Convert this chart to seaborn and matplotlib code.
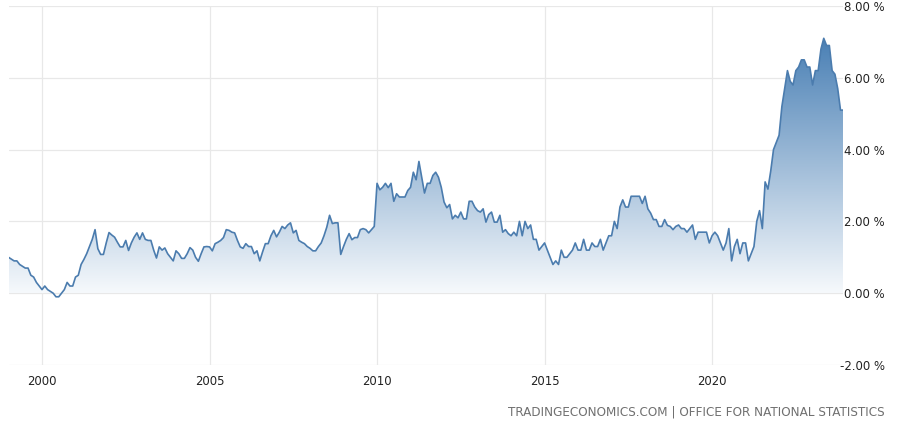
import numpy as np
import pandas as pd
import matplotlib
matplotlib.use("Agg")
import matplotlib.pyplot as plt
from matplotlib.colors import LinearSegmentedColormap
import seaborn as sns

# UK core inflation rate, monthly, Jan 1999 - Dec 2023 (%)
core_1999 = [1.0, 0.95, 0.9, 0.9, 0.8, 0.75, 0.7, 0.7, 0.5, 0.45, 0.3, 0.2]
core_2000 = [0.1, 0.2, 0.1, 0.05, 0.0, -0.1, -0.1, 0.0, 0.1, 0.3, 0.2, 0.2]
core_2001 = [0.45, 0.5, 0.8, 0.94, 1.1, 1.3, 1.5, 1.77, 1.24, 1.08, 1.08, 1.4]
core_2002 = [1.69, 1.62, 1.56, 1.42, 1.29, 1.29, 1.47, 1.19, 1.4, 1.56, 1.68, 1.5]
core_2003 = [1.68, 1.5, 1.47, 1.47, 1.2, 0.98, 1.29, 1.2, 1.26, 1.1, 1.0, 0.9]
core_2004 = [1.18, 1.1, 0.97, 0.97, 1.1, 1.27, 1.2, 1.0, 0.89, 1.1, 1.29, 1.3]
core_2005 = [1.29, 1.18, 1.38, 1.42, 1.47, 1.55, 1.77, 1.75, 1.7, 1.68, 1.47, 1.29]
core_2006 = [1.25, 1.38, 1.3, 1.3, 1.1, 1.18, 0.9, 1.15, 1.38, 1.38, 1.6, 1.75]
core_2007 = [1.57, 1.7, 1.86, 1.8, 1.9, 1.96, 1.68, 1.75, 1.47, 1.42, 1.38, 1.3]
core_2008 = [1.25, 1.18, 1.18, 1.3, 1.4, 1.6, 1.84, 2.17, 1.94, 1.96, 1.96, 1.08]
core_2009 = [1.3, 1.5, 1.66, 1.49, 1.55, 1.55, 1.77, 1.8, 1.77, 1.68, 1.77, 1.86]
core_2010 = [3.06, 2.88, 2.95, 3.06, 2.94, 3.06, 2.56, 2.77, 2.68, 2.68, 2.68, 2.86]
core_2011 = [2.95, 3.37, 3.16, 3.67, 3.23, 2.79, 3.06, 3.06, 3.28, 3.37, 3.23, 2.95]
core_2012 = [2.54, 2.38, 2.47, 2.07, 2.17, 2.1, 2.26, 2.07, 2.07, 2.56, 2.56, 2.4]
core_2013 = [2.3, 2.26, 2.35, 1.98, 2.19, 2.26, 1.98, 1.98, 2.17, 1.7, 1.77, 1.66]
core_2014 = [1.6, 1.7, 1.6, 2.0, 1.6, 2.0, 1.8, 1.9, 1.5, 1.5, 1.2, 1.3]
core_2015 = [1.4, 1.2, 1.0, 0.8, 0.9, 0.8, 1.2, 1.0, 1.0, 1.1, 1.2, 1.4]
core_2016 = [1.2, 1.2, 1.5, 1.2, 1.2, 1.4, 1.3, 1.3, 1.5, 1.2, 1.4, 1.6]
core_2017 = [1.6, 2.0, 1.8, 2.4, 2.6, 2.4, 2.4, 2.7, 2.7, 2.7, 2.7, 2.5]
core_2018 = [2.7, 2.35, 2.23, 2.05, 2.05, 1.86, 1.86, 2.05, 1.89, 1.86, 1.77, 1.86]
core_2019 = [1.9, 1.8, 1.8, 1.7, 1.8, 1.9, 1.5, 1.7, 1.7, 1.7, 1.7, 1.4]
core_2020 = [1.6, 1.7, 1.6, 1.4, 1.2, 1.4, 1.8, 0.9, 1.3, 1.5, 1.1, 1.4]
core_2021 = [1.4, 0.9, 1.1, 1.3, 2.0, 2.3, 1.8, 3.1, 2.9, 3.4, 4.0, 4.2]
core_2022 = [4.4, 5.2, 5.7, 6.2, 5.9, 5.8, 6.2, 6.3, 6.5, 6.5, 6.3, 6.3]
core_2023 = [5.8, 6.2, 6.2, 6.8, 7.1, 6.9, 6.9, 6.2, 6.1, 5.7, 5.1, 5.1]

year_ticks = [2000, 2005, 2010, 2015, 2020]
y_ticks = [-2, 0, 2, 4, 6, 8]
source_text = "TRADINGECONOMICS.COM | OFFICE FOR NATIONAL STATISTICS"

# build the monthly frame
yearly = [core_1999, core_2000, core_2001, core_2002, core_2003, core_2004,
          core_2005, core_2006, core_2007, core_2008, core_2009, core_2010,
          core_2011, core_2012, core_2013, core_2014, core_2015, core_2016,
          core_2017, core_2018, core_2019, core_2020, core_2021, core_2022,
          core_2023]
values = np.concatenate(yearly)
t = 1999 + np.arange(len(values)) / 12.0
df = pd.DataFrame({"t": t, "value": values})

sns.set_style("white")
plt.rcParams["font.family"] = ["DejaVu Sans"]
plt.rcParams["font.stretch"] = "condensed"

line_color = "#4b7cae"
grid_color = "#e8e8e8"

fig = plt.figure(figsize=(9, 4.24), dpi=100)
ax = fig.add_axes([8.5 / 900, 59 / 424, 834.8 / 900, 359 / 424])

# gradient fill under the line
fill = ax.fill_between(df["t"], df["value"], 0, color="none", lw=0)
cmap = LinearSegmentedColormap.from_list("fade", ["#f6f9fc", "#4a80b5"])
grad = np.linspace(0, 1, 256).reshape(-1, 1)
ymax = df["value"].max()
im = ax.imshow(grad, extent=[t.min(), t.max(), 0, ymax], origin="lower",
               aspect="auto", cmap=cmap, zorder=1)
im.set_clip_path(fill.get_paths()[0], transform=ax.transData)

sns.lineplot(data=df, x="t", y="value", ax=ax, color=line_color, lw=1.2, zorder=3)

ax.set_xlim(t.min(), t.max())
ax.set_ylim(-2, 8)

ax.set_xticks(year_ticks)
ax.set_xticklabels([str(y) for y in year_ticks])
ax.set_yticks(y_ticks)
ax.set_yticklabels(["%.2f %%" % v for v in y_ticks])
ax.yaxis.tick_right()
ax.tick_params(axis="y", length=0, pad=30, labelsize=9.4, labelcolor="#222222")
ax.tick_params(axis="x", length=0, pad=7, labelsize=9.4, labelcolor="#222222")
for lab in ax.get_yticklabels():
    lab.set_horizontalalignment("right")

ax.grid(True, color=grid_color, lw=0.9)
ax.set_axisbelow(True)
for s in ax.spines.values():
    s.set_visible(False)
ax.set_xlabel("")
ax.set_ylabel("")

fig.text(885 / 900, 1 - 412 / 424, source_text, ha="right", va="center",
         fontsize=9.6, color="#707070")

fig.savefig("out.png", dpi=100)
